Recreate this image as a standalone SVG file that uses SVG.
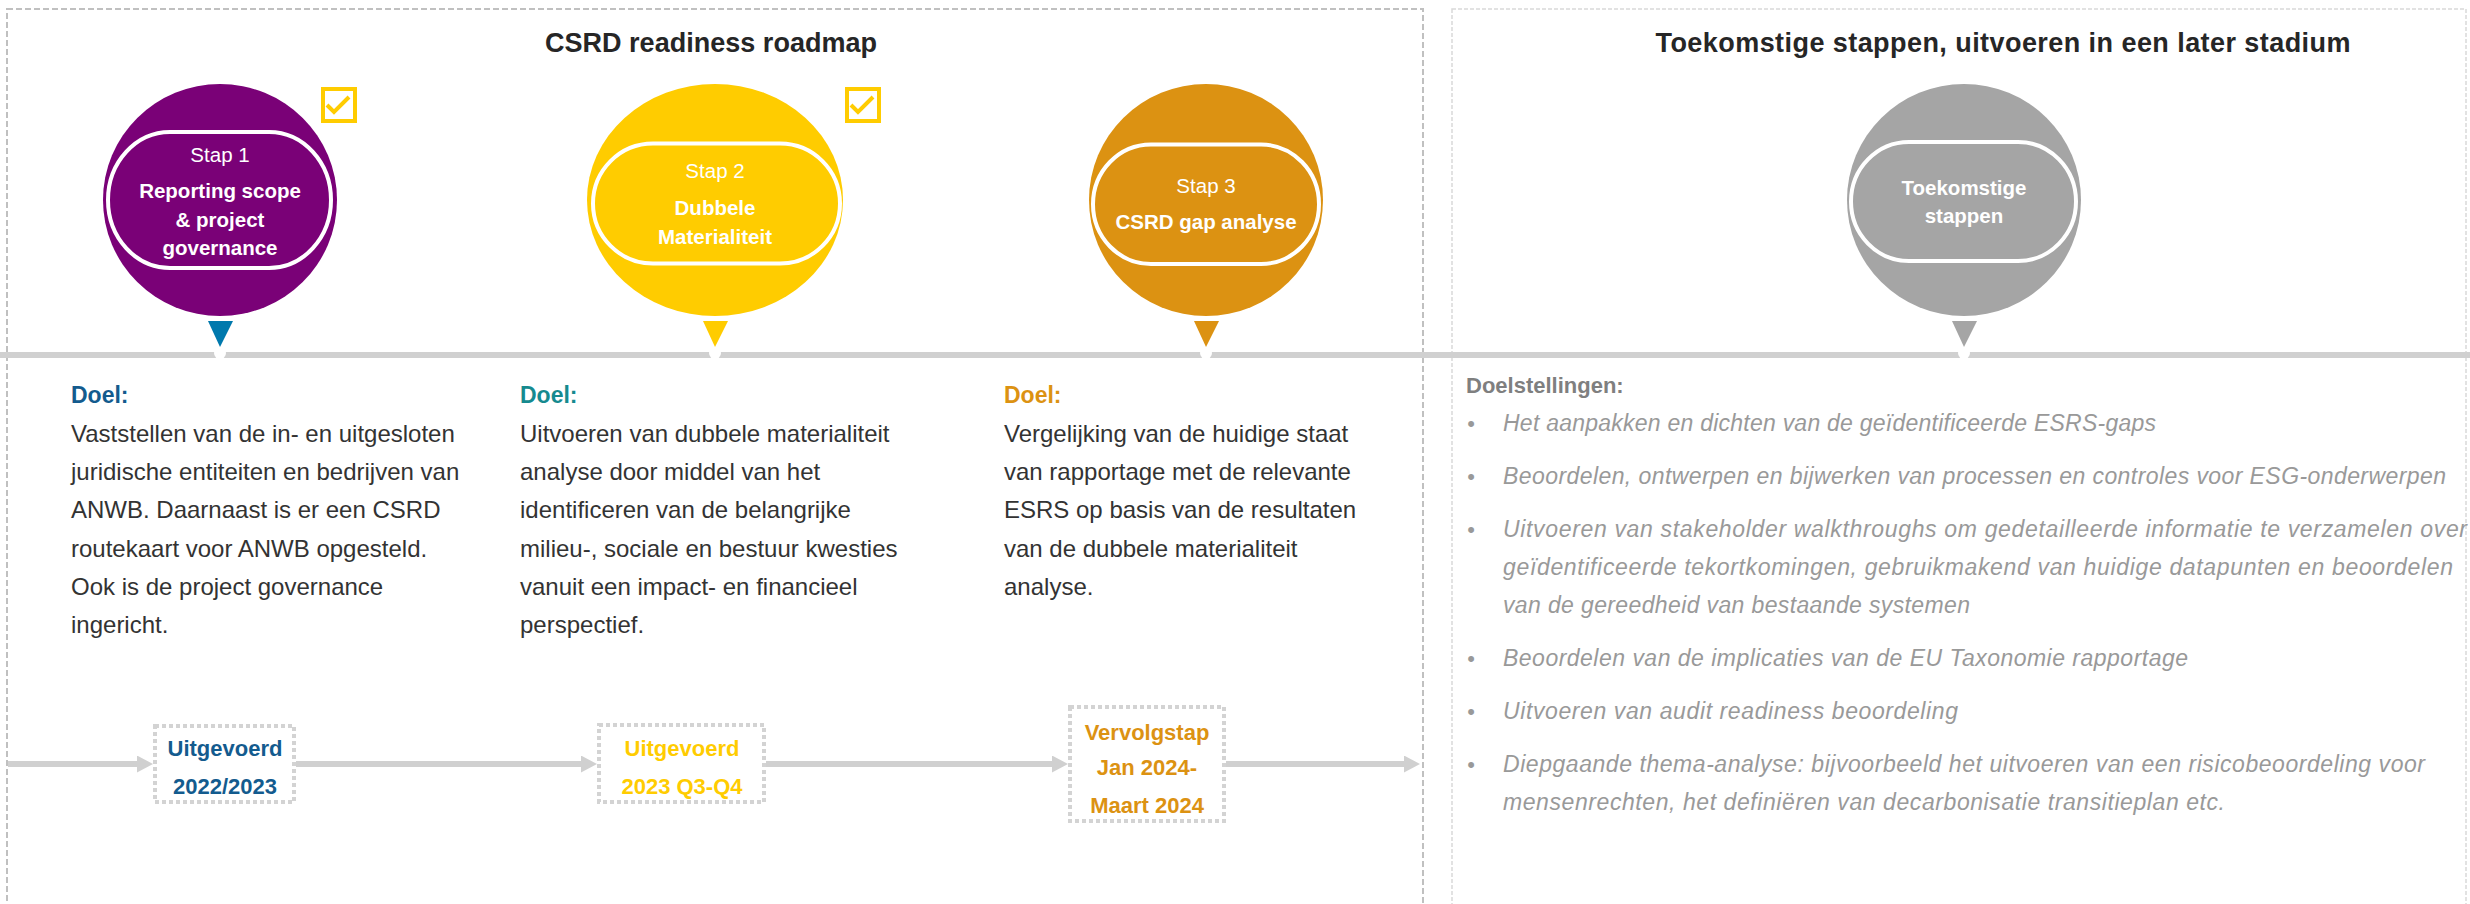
<svg xmlns="http://www.w3.org/2000/svg" width="2470" height="904" viewBox="0 0 2470 904">
<defs>
<style>
text{font-family:"Liberation Sans",Arial,sans-serif}
.title{font-size:27px;font-weight:bold;fill:#262626;text-anchor:middle}
.stap{font-size:20.5px;fill:#ffffff;text-anchor:middle}
.stapb{font-size:20.5px;font-weight:bold;fill:#ffffff;text-anchor:middle}
.pill{stroke:#ffffff;stroke-width:4}
.doel{font-size:23px;font-weight:bold}
.body{font-size:24px;fill:#333333}
.boxt{font-size:22px;font-weight:bold;text-anchor:middle}
.box{fill:#ffffff;stroke:#d3d3d3;stroke-width:4;stroke-dasharray:4 3}
.goalh{font-size:22px;font-weight:bold;fill:#7f7f7f}
.goal{font-size:23px;font-style:italic;fill:#999999}
.bul{font-size:22px;fill:#999999;text-anchor:middle}
.chk{fill:#ffffff;stroke:#ffcc00;stroke-width:4}
.chkm{fill:none;stroke:#ffcc00;stroke-width:4}
.conn{stroke:#d0d0d0;stroke-width:6;fill:none}
</style>
<marker id="ah" markerUnits="userSpaceOnUse" markerWidth="16" markerHeight="17" refX="6" refY="8.5" orient="auto">
<path d="M0,0 L16,8.5 L0,17 z" fill="#d0d0d0"/>
</marker>
</defs>
<rect width="2470" height="904" fill="#ffffff"/>

<g id="panel-left">
<rect x="7" y="9" width="1416" height="920" fill="none" stroke="#c0c0c0" stroke-width="2" stroke-dasharray="6 3"/>
<text class="title" x="711" y="52" textLength="332">CSRD readiness roadmap</text>
</g>
<g id="panel-right">
<rect x="1452" y="9" width="1014" height="920" fill="none" stroke="#d9d9d9" stroke-width="1.5" stroke-dasharray="4 2"/>
<text class="title" x="2003" y="52" textLength="695">Toekomstige stappen, uitvoeren in een later stadium</text>
</g>

<g id="connectors">
<rect x="0" y="352" width="2470" height="6" fill="#d0d0d0"/>
<path class="conn" d="M8 764 H143" marker-end="url(#ah)"/>
<path class="conn" d="M296 764 H587" marker-end="url(#ah)"/>
<path class="conn" d="M766 764 H1058" marker-end="url(#ah)"/>
<path class="conn" d="M1226 764 H1410" marker-end="url(#ah)"/>
</g>

<g id="step1">
<ellipse cx="220" cy="200" rx="117" ry="116" fill="#7a0177"/>
<rect class="pill" x="108" y="132" width="223" height="136" rx="62" ry="68" fill="#7a0177"/>
<text class="stap" x="220" y="162">Stap 1</text>
<text class="stapb" x="220" y="198">Reporting scope</text>
<text class="stapb" x="220" y="227">&amp; project</text>
<text class="stapb" x="220" y="255">governance</text>
<polygon points="208,321 233,321 220,347" fill="#0079ad"/>
<circle cx="220" cy="353" r="6" fill="#ffffff"/>
</g>
<g id="check1">
<rect class="chk" x="323" y="89" width="32" height="32"/>
<path class="chkm" d="M327 105 L334 112 L349 97"/>
</g>

<g id="step2">
<ellipse cx="715" cy="200" rx="128" ry="116" fill="#ffcc00"/>
<rect class="pill" x="593" y="143.5" width="247" height="120" rx="60" ry="60" fill="#ffcc00"/>
<text class="stap" x="715" y="178">Stap 2</text>
<text class="stapb" x="715" y="215">Dubbele</text>
<text class="stapb" x="715" y="244">Materialiteit</text>
<polygon points="703,321 728,321 715,347" fill="#ffcc00"/>
<circle cx="715" cy="353" r="6" fill="#ffffff"/>
</g>
<g id="check2">
<rect class="chk" x="847" y="89" width="32" height="32"/>
<path class="chkm" d="M851 105 L858 112 L873 97"/>
</g>

<g id="step3">
<ellipse cx="1206" cy="200" rx="117" ry="116" fill="#dc9212"/>
<rect class="pill" x="1093" y="144.5" width="226" height="119.5" rx="58" ry="59.75" fill="#dc9212"/>
<text class="stap" x="1206" y="193">Stap 3</text>
<text class="stapb" x="1206" y="229">CSRD gap analyse</text>
<polygon points="1194,321 1219,321 1206,347" fill="#dc9212"/>
<circle cx="1206" cy="353" r="6" fill="#ffffff"/>
</g>

<g id="step4">
<ellipse cx="1964" cy="200" rx="117" ry="116" fill="#a5a5a5"/>
<rect class="pill" x="1851" y="142" width="225" height="119" rx="58" ry="59.5" fill="#a5a5a5"/>
<text class="stapb" x="1964" y="195">Toekomstige</text>
<text class="stapb" x="1964" y="223">stappen</text>
<polygon points="1952,321 1977,321 1964,347" fill="#a5a5a5"/>
<circle cx="1964" cy="353" r="6" fill="#ffffff"/>
</g>

<g id="doel1">
<text class="doel" x="71" y="403" fill="#135b8e">Doel:</text>
<text class="body" x="71" y="442">Vaststellen van de in- en uitgesloten</text>
<text class="body" x="71" y="480">juridische entiteiten en bedrijven van</text>
<text class="body" x="71" y="518">ANWB. Daarnaast is er een CSRD</text>
<text class="body" x="71" y="557">routekaart voor ANWB opgesteld.</text>
<text class="body" x="71" y="595">Ook is de project governance</text>
<text class="body" x="71" y="633">ingericht.</text>
</g>
<g id="doel2">
<text class="doel" x="520" y="403" fill="#168a8f">Doel:</text>
<text class="body" x="520" y="442">Uitvoeren van dubbele materialiteit</text>
<text class="body" x="520" y="480">analyse door middel van het</text>
<text class="body" x="520" y="518">identificeren van de belangrijke</text>
<text class="body" x="520" y="557">milieu-, sociale en bestuur kwesties</text>
<text class="body" x="520" y="595">vanuit een impact- en financieel</text>
<text class="body" x="520" y="633">perspectief.</text>
</g>
<g id="doel3">
<text class="doel" x="1004" y="403" fill="#dc9212">Doel:</text>
<text class="body" x="1004" y="442">Vergelijking van de huidige staat</text>
<text class="body" x="1004" y="480">van rapportage met de relevante</text>
<text class="body" x="1004" y="518">ESRS op basis van de resultaten</text>
<text class="body" x="1004" y="557">van de dubbele materialiteit</text>
<text class="body" x="1004" y="595">analyse.</text>
</g>

<g id="box1">
<rect class="box" x="155" y="726" width="139" height="76"/>
<text class="boxt" x="225" y="756" fill="#135b8e">Uitgevoerd</text>
<text class="boxt" x="225" y="794" fill="#135b8e">2022/2023</text>
</g>
<g id="box2">
<rect class="box" x="599" y="725" width="165" height="77"/>
<text class="boxt" x="682" y="756" fill="#ffcc00">Uitgevoerd</text>
<text class="boxt" x="682" y="794" fill="#ffcc00">2023 Q3-Q4</text>
</g>
<g id="box3">
<rect class="box" x="1070" y="707" width="154" height="114"/>
<text class="boxt" x="1147" y="740" fill="#dc9212">Vervolgstap</text>
<text class="boxt" x="1147" y="775" fill="#dc9212">Jan 2024-</text>
<text class="boxt" x="1147" y="813" fill="#dc9212">Maart 2024</text>
</g>

<g id="goals">
<text class="goalh" x="1466" y="393">Doelstellingen:</text>
<text class="bul" x="1471" y="431">•</text>
<text class="goal" x="1503" y="431" textLength="653">Het aanpakken en dichten van de geïdentificeerde ESRS-gaps</text>
<text class="bul" x="1471" y="484">•</text>
<text class="goal" x="1503" y="484" textLength="943">Beoordelen, ontwerpen en bijwerken van processen en controles voor ESG-onderwerpen</text>
<text class="bul" x="1471" y="537">•</text>
<text class="goal" x="1503" y="537" textLength="964">Uitvoeren van stakeholder walkthroughs om gedetailleerde informatie te verzamelen over</text>
<text class="goal" x="1503" y="575" textLength="950">geïdentificeerde tekortkomingen, gebruikmakend van huidige datapunten en beoordelen</text>
<text class="goal" x="1503" y="613" textLength="467">van de gereedheid van bestaande systemen</text>
<text class="bul" x="1471" y="666">•</text>
<text class="goal" x="1503" y="666" textLength="685">Beoordelen van de implicaties van de EU Taxonomie rapportage</text>
<text class="bul" x="1471" y="719">•</text>
<text class="goal" x="1503" y="719" textLength="455">Uitvoeren van audit readiness beoordeling</text>
<text class="bul" x="1471" y="772">•</text>
<text class="goal" x="1503" y="772" textLength="922">Diepgaande thema-analyse: bijvoorbeeld het uitvoeren van een risicobeoordeling voor</text>
<text class="goal" x="1503" y="810" textLength="722">mensenrechten, het definiëren van decarbonisatie transitieplan etc.</text>
</g>
</svg>
